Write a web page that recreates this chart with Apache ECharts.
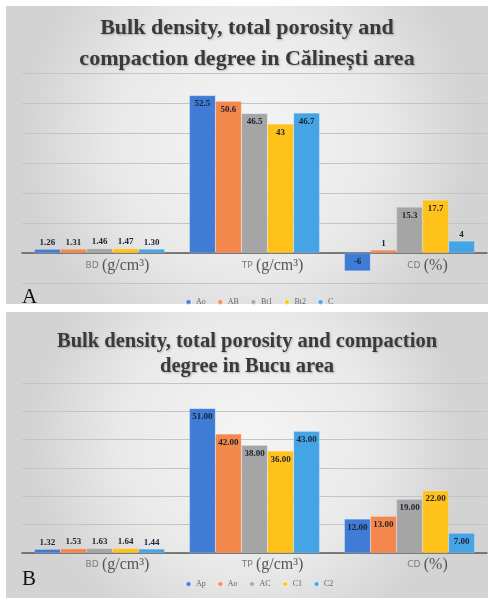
<!DOCTYPE html>
<html>
<head>
<meta charset="utf-8">
<script src="https://cdn.jsdelivr.net/npm/echarts@6/dist/echarts.min.js"></script>
<style>
html,body{margin:0;padding:0;background:#fff;}
#a{position:absolute;left:0;top:0;width:494px;height:306px;}
#b{position:absolute;left:0;top:306px;width:494px;height:293px;}
</style>
</head>
<body>
<div id="a"></div>
<div id="b"></div>
<script>
// ---- Data: chart A (Călinești) ----
const categoriesA = ['BD (g/cm³)', 'TP (g/cm³)', 'CD (%)'];
const seriesNamesA = ['Ao', 'AB', 'Bt1', 'Bt2', 'C'];
const valuesA_Ao  = [1.26, 52.5, -6];
const valuesA_AB  = [1.31, 50.6, 1];
const valuesA_Bt1 = [1.46, 46.5, 15.3];
const valuesA_Bt2 = [1.47, 43, 17.7];
const valuesA_C   = [1.30, 46.7, 4];

// ---- Data: chart B (Bucu) ----
const categoriesB = ['BD (g/cm³)', 'TP (g/cm³)', 'CD(%)'];
const seriesNamesB = ['Ap', 'Ao', 'AC', 'C1', 'C2'];
const valuesB_Ap = [1.32, 51.00, 12.00];
const valuesB_Ao = [1.53, 42.00, 13.00];
const valuesB_AC = [1.63, 38.00, 19.00];
const valuesB_C1 = [1.64, 36.00, 22.00];
const valuesB_C2 = [1.44, 43.00, 7.00];

const colors = ['#3F7CD6', '#F4874B', '#A5A5A5', '#FFC21A', '#45A4E6'];
const serif = '"Liberation Serif","Times New Roman",serif';

function catLabel(v) {
  const m = v.match(/^([A-Z]+)\s*(.*)$/);
  return '{s|' + m[1] + '} {b|' + m[2] + '}';
}

function makeOption(cfg) {
  const series = cfg.values.map((vals, i) => ({
    name: cfg.names[i],
    type: 'bar',
    barGap: '0%',
    barCategoryGap: '16%',
    itemStyle: { color: colors[i], borderColor: 'rgba(255,255,255,0.35)', borderWidth: 0.5 },
    data: vals.map(v => {
      let pos = 'insideTop', dist = 4;
      if (v < 0) { pos = 'inside'; dist = 0; }
      else if (v < cfg.smallThreshold) { pos = 'top'; dist = 2; }
      return { value: v, label: { position: pos, distance: dist } };
    }),
    label: {
      show: true,
      fontFamily: serif,
      fontWeight: 'bold',
      fontSize: 9,
      color: '#1c2230',
      formatter: p => cfg.fmt(p.value, p.dataIndex)
    },
    markLine: (i === 0 && cfg.min < 0) ? {
      silent: true,
      symbol: 'none',
      label: { show: false },
      lineStyle: { color: '#c4c4c4', width: 1, type: 'solid' },
      data: [{ yAxis: cfg.min }]
    } : undefined
  }));
  return {
    backgroundColor: 'transparent',
    animation: false,
    graphic: [
      {
        type: 'rect', z: -100,
        shape: { x: 6, y: 6, width: 482, height: cfg.panelH },
        style: {
          fill: {
            type: 'radial', x: 0.5, y: 0.45, r: 0.75,
            colorStops: [
              { offset: 0, color: '#f5f5f5' },
              { offset: 0.6, color: '#e9e9e9' },
              { offset: 1, color: '#d3d3d3' }
            ]
          }
        }
      },
      {
        type: 'text', left: 22, top: cfg.letterY - 11,
        style: { text: cfg.letter, font: '21px ' + serif, fill: '#111' }
      }
    ],
    title: {
      text: cfg.title,
      left: 'center',
      top: cfg.titleTop,
      textStyle: {
        fontFamily: serif, fontWeight: 'bold', fontSize: cfg.titleSize,
        lineHeight: cfg.titleLH, color: '#3a3a3a',
        textShadowColor: 'rgba(0,0,0,0.25)', textShadowBlur: 2, textShadowOffsetX: 1, textShadowOffsetY: 1
      }
    },
    legend: {
      data: cfg.names,
      left: 180,
      top: cfg.legendY - 5,
      icon: 'circle',
      itemWidth: 5, itemHeight: 5,
      itemGap: 11,
      textStyle: { fontSize: 8, color: '#666', fontFamily: serif }
    },
    grid: { left: 22, right: 7, top: cfg.gridTop, bottom: cfg.gridBottom, containLabel: false },
    xAxis: {
      type: 'category',
      data: cfg.categories,
      axisLine: { onZero: true, lineStyle: { color: '#5a5a5a', width: 1.5 } },
      axisTick: { show: false },
      axisLabel: {
        margin: cfg.labelMargin,
        padding: [0, 0, 0, 36],
        formatter: catLabel,
        rich: {
          s: { fontSize: 9, color: '#7a7a7a', fontFamily: 'DejaVu Sans' },
          b: { fontSize: 16, color: '#555', fontFamily: serif }
        }
      }
    },
    yAxis: {
      type: 'value',
      min: cfg.min, max: 60, interval: 10,
      axisLabel: { show: false },
      axisLine: { show: false },
      axisTick: { show: false },
      splitLine: { showMinLine: true, showMaxLine: true, lineStyle: { color: '#c4c4c4', width: 1 } }
    },
    series: series
  };
}

const chartA = echarts.init(document.getElementById('a'), null, { renderer: 'canvas' });
chartA.setOption(makeOption({
  title: 'Bulk density, total porosity and\ncompaction degree in Călinești area',
  titleTop: 8, titleLH: 31, titleSize: 22,
  categories: categoriesA,
  names: seriesNamesA,
  values: [valuesA_Ao, valuesA_AB, valuesA_Bt1, valuesA_Bt2, valuesA_C],
  fmt: (v, i) => i === 0 ? v.toFixed(2) : String(v),
  smallThreshold: 5,
  min: -10,
  gridTop: 73, gridBottom: 23,
  labelMargin: -25,
  legendY: 298, letter: 'A', letterY: 298,
  panelH: 298
}));

const chartB = echarts.init(document.getElementById('b'), null, { renderer: 'canvas' });
chartB.setOption(makeOption({
  title: 'Bulk density, total porosity and compaction\ndegree in Bucu area',
  titleTop: 18, titleLH: 25, titleSize: 20.5,
  categories: categoriesB,
  names: seriesNamesB,
  values: [valuesB_Ap, valuesB_Ao, valuesB_AC, valuesB_C1, valuesB_C2],
  fmt: v => v.toFixed(2),
  smallThreshold: 3,
  min: 0,
  gridTop: 77, gridBottom: 46,
  labelMargin: 4,
  legendY: 274, letter: 'B', letterY: 274,
  panelH: 286
}));
</script>
</body>
</html>
